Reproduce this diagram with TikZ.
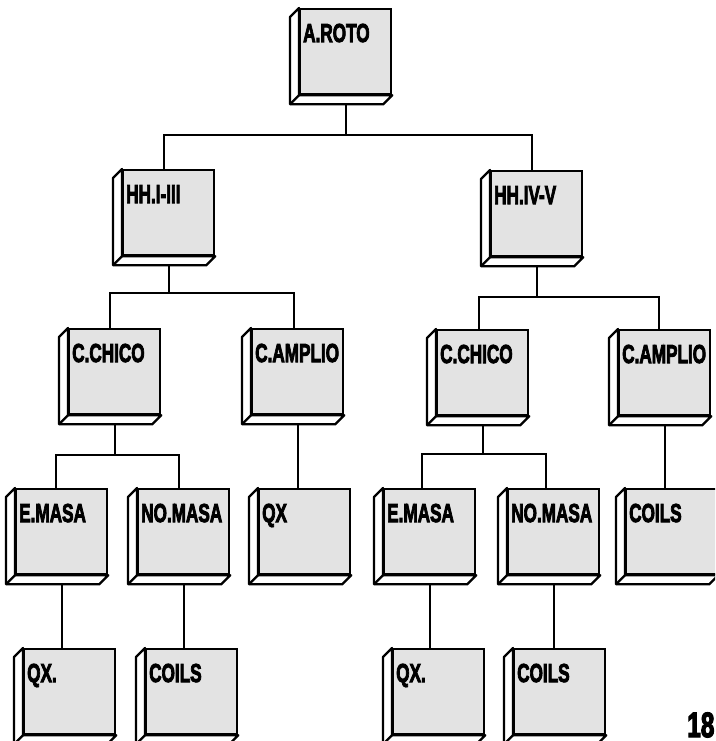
\documentclass[tikz,border=0pt]{standalone}
\usepackage{fontspec}
\usepackage{graphicx}
\newfontfamily\boxfont{Liberation Sans}[UprightFont={* Bold}, FakeBold=4]
\usetikzlibrary{calc}
\tikzset{
 face/.style={draw, line width=2.3pt, fill=black!11, minimum width=91pt, minimum height=85pt, inner sep=0pt, anchor=north west},
 bevel/.style={draw, line width=2.3pt, fill=white, line join=round},
 conn/.style={draw, line width=1.8pt},
 lbl/.style={anchor=base west, inner sep=0pt, font=\boxfont\fontsize{26}{26}\selectfont}
}
\newcommand{\bx}[4]{%
 \node[face] (#1) at (#2,#3) {};
 \filldraw[bevel] (#1.north west) -- ++(-9,9) -- ($(#1.south west)+(-9,9)$) -- ($(#1.south east)+(-9,9)$) -- (#1.south east) -- (#1.south west) -- cycle;
 \draw[bevel] (#1.south west) -- ++(-9,9);
 \node[lbl] (#1-t) at ($(#1.north west)+(4,34)$) {\scalebox{0.66}[1]{#4}};
}
\begin{document}
\begin{tikzpicture}[x=1pt,y=-1pt]
\useasboundingbox[fill=white] (0,0) rectangle (715,741);
\clip (0,0) rectangle (715,741);
\bx{aroto}{299}{8}{A.ROTO}
\bx{hhA}{122}{169}{HH.I-III}
\bx{hhB}{490}{170}{HH.IV-V}
\bx{cchA}{68}{328}{C.CHICO}
\bx{campA}{251}{328}{C.AMPLIO}
\bx{cchB}{436}{329}{C.CHICO}
\bx{campB}{618}{329}{C.AMPLIO}
\bx{emA}{15}{488}{E.MASA}
\bx{nmA}{137}{488}{NO.MASA}
\bx{qxA}{258}{488}{QX}
\bx{emB}{383}{488}{E.MASA}
\bx{nmB}{507}{488}{NO.MASA}
\bx{coB}{625}{488}{COILS}
\bx{qxC}{23}{648}{QX.}
\bx{coA}{145}{648}{COILS}
\bx{qxD}{392}{648}{QX.}
\bx{coD}{513}{648}{COILS}
\coordinate (L1) at (0,135);
\coordinate (L2a) at (0,293);
\coordinate (L2b) at (0,297);
\coordinate (L3a) at (0,455);
\coordinate (L3b) at (0,454);
% level 1
\draw[conn] ($(aroto.south)+(0,9)$) -- (aroto.south |- L1);
\draw[conn] ([xshift=-5pt]hhA.north) |- (aroto.south |- L1) -| ([xshift=-5pt]hhB.north);
% level 2
\draw[conn] ($(hhA.south)+(0,9)$) -- (hhA.south |- L2a);
\draw[conn] ([xshift=-5pt]cchA.north) |- (hhA.south |- L2a) -| ([xshift=-4pt]campA.north);
\draw[conn] ($(hhB.south)+(0,9)$) -- (hhB.south |- L2b);
\draw[conn] ([xshift=-4pt]cchB.north) |- (hhB.south |- L2b) -| ([xshift=-6pt]campB.north);
% level 3
\draw[conn] ($(cchA.south)+(0,9)$) -- (cchA.south |- L3a);
\draw[conn] ([xshift=-6pt]emA.north) |- (cchA.south |- L3a) -| ([xshift=-5pt]nmA.north);
\draw[conn] ($(campA.south)+(0,9)$) -- (campA.south |- qxA.north);
\draw[conn] ($(cchB.south)+(0,9)$) -- (cchB.south |- L3b);
\draw[conn] ([xshift=-8pt]emB.north) |- (cchB.south |- L3b) -| ([xshift=-8pt]nmB.north);
\draw[conn] ($(campB.south)+(0,9)$) -- (campB.south |- coB.north);
% level 4
\draw[conn] ($(emA.south)+(0,9)$) -- (emA.south |- qxC.north);
\draw[conn] ($(nmA.south)+(0,9)$) -- (nmA.south |- coA.north);
\draw[conn] ($(emB.south)+(0,9)$) -- (emB.south |- qxD.north);
\draw[conn] ($(nmB.south)+(0,9)$) -- (nmB.south |- coD.north);
\node[anchor=base west, inner sep=0pt, font=\boxfont\fontsize{35}{35}\selectfont] (pg) at (687,737) {\scalebox{0.70}[1]{18}};
\end{tikzpicture}
\end{document}
